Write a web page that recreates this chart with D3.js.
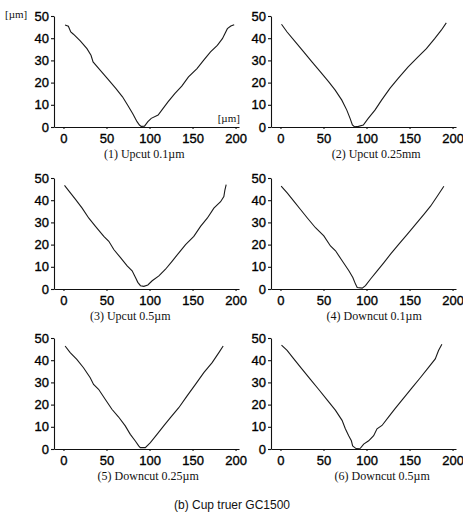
<!DOCTYPE html>
<html lang="en">

<head>
    <meta charset="UTF-8">
    <title>Cup truer GC1500</title>
    <script src="https://d3js.org/d3.v7.min.js"></script>
    <style>
        body,
        html {
            margin: 0px;
            background: #fff;
        }

        .tick text {
            font-family: 'Liberation Sans', Arial, sans-serif;
            font-size: 13px;
            fill: #000;
            stroke: #000;
            stroke-width: 0.35px;
        }

        .title {
            font-family: 'Liberation Serif', 'Times New Roman', serif;
            font-size: 12px;
            fill: #111;
        }
    </style>
</head>

<body>
    <div id="chart"></div>

    <script>
        // profile data: [x µm, depth µm]
        const upcut01 = [[1.8, 45.9], [5.7, 45.4], [8.5, 42.8], [11.6, 41.8], [19.5, 38.8], [27.3, 35.3], [32, 32.3], [34.4, 29.3],
        [41.1, 26.3], [50.9, 21.9], [60.8, 17.4], [68.6, 13.6], [74.5, 9.9], [80.4, 6.1], [85.5, 2.4], [88.3, 0.9], [90.3, 0.3],
        [94.2, 0.4], [98.1, 2.4], [102, 3.9], [110, 5.4], [115.8, 8.4], [121.7, 11.4], [129.6, 15.1], [137.5, 18.4], [145.3, 22.6],
        [155.2, 26.3], [163, 30.1], [170.9, 33.8], [178.8, 36.8], [184.7, 39.8], [190.5, 44.3], [194.5, 45.5], [198.4, 46.1]]

        const upcut025 = [[1.2, 46.3], [7.7, 42.8], [17.3, 38.3], [27, 33.8], [36.6, 29.3], [46.2, 24.9], [55.9, 20.4], [63.6, 16.6],
        [71.3, 12.1], [77.1, 7.6], [80.9, 3.9], [83.6, 0.9], [85.9, 0.1], [90.6, 0.3], [96.3, 0.9], [102, 3.9], [109.8, 7.6],
        [117.5, 12.1], [127.2, 17.4], [136.8, 21.9], [148.4, 27.1], [159.9, 31.6], [169.6, 35.3], [179.2, 39.8], [186.9, 43.6], [192.7, 46.9]]

        const upcut05 = [[1.2, 46.7], [6.2, 44.2], [14, 40.4], [21.7, 36.4], [29.5, 31.9], [37.2, 28.2], [46.9, 23.7], [52.7, 21.5],
        [58.5, 17.8], [66.3, 14.1], [74, 10.4], [79.8, 8.2], [83.7, 5.2], [86.4, 3], [89.5, 1.5], [93.4, 1.2], [98.1, 1.8],
        [103.1, 3.7], [110.9, 5.9], [118.6, 8.9], [126.4, 12.6], [134.1, 16.3], [141.9, 20], [151.5, 23.7], [159.3, 28.2],
        [167.1, 31.9], [174.8, 36.4], [182.6, 39.3], [186.4, 41.6], [187.6, 44.5], [189.1, 47]]

        const downcut01 = [[0.8, 46.3], [7.8, 43.3], [15.5, 39.6], [23.3, 35.8], [31, 32.1], [40.7, 27.6], [50.4, 23.9], [58.1, 19.4],
        [64, 17.2], [71.7, 12.7], [79.5, 8.2], [84.1, 5.2], [87.2, 2.2], [89.2, 0.7], [95, 0.4], [98.8, 1.5], [104.7, 4.5],
        [112.4, 8.2], [120.2, 11.9], [127.9, 15.7], [137.6, 20.2], [147.3, 24.6], [157, 29.1], [166.7, 33.6], [174.4, 37.3],
        [182.2, 41.8], [189.9, 46.3]]

        const downcut025 = [[1.9, 46.4], [7.8, 43.4], [15.5, 40.4], [23.3, 36.6], [31.1, 32.1], [35, 29.1], [40.8, 26.9], [48.5, 22.4],
        [56.3, 17.9], [64.1, 14.4], [71.8, 10.4], [77.7, 6.6], [83.5, 3.6], [87.4, 1.4], [89.3, 0.6], [95.1, 0.6], [101, 2.9],
        [108.7, 6.6], [116.5, 10.4], [124.3, 14.1], [134, 18.6], [143.7, 23.9], [153.4, 29.1], [163.1, 34.4], [172.8, 38.9],
        [180.6, 43.4], [185.6, 46.4]]

        const downcut05 = [[1.2, 46.8], [7.7, 44.4], [15.5, 40.6], [25.1, 36], [34.8, 31.4], [44.5, 26.8], [54.2, 22.1], [63.8, 17.5],
        [71.6, 12.9], [75.4, 9.1], [79.3, 6], [82.4, 3.7], [83.9, 1.4], [87.8, 0.2], [92.8, 0.3], [96.7, 2.2], [102.5, 3.7],
        [108.3, 6], [112.2, 9.1], [118, 10.6], [125.7, 14.5], [133.4, 18.3], [143.1, 22.9], [152.8, 27.5], [162.5, 32.1],
        [172.1, 36.8], [179.9, 40.6], [183.7, 44.4], [187.6, 47.2]]

        const series = [upcut01, upcut025, upcut05, downcut01, downcut025, downcut05]
        const titles = ['(1) Upcut 0.1\u00b5m', '(2) Upcut 0.25mm', '(3) Upcut 0.5\u00b5m',
            '(4) Downcut 0.1\u00b5m', '(5) Downcut 0.25\u00b5m', '(6) Downcut 0.5\u00b5m']
        const xTicks = [0, 50, 100, 150, 200]
        const yTicks = [0, 10, 20, 30, 40, 50]
        const caption = '(b) Cup truer GC1500'

        const width = 463, height = 516
        // panel placement: axis origin (left, bottom) and title centre
        const colLeft = [54, 271]
        const rowBottom = [127, 289, 449]
        const panelW = 185, panelH = 111
        const titleShift = [-1, 14, -15, 12, 3, 20]

        const svg = d3.select('#chart')
            .append('svg')
            .attr('width', width)
            .attr('height', height)
            .style('background', '#fff')

        series.forEach((data, i) => {
            const col = i % 2, row = Math.floor(i / 2)
            const x0 = colLeft[col], y0 = rowBottom[row]

            const x = d3.scaleLinear().domain([-11, 204]).range([0, panelW])
            const y = d3.scaleLinear().domain([0, 50]).range([0, -panelH])

            const g = svg.append('g').attr('transform', `translate(${x0},${y0})`)

            g.append('g')
                .call(d3.axisBottom(x).tickValues(xTicks).tickSize(2).tickSizeOuter(0).tickPadding(5))
            g.append('g')
                .attr('transform', `translate(${x(-11)},0)`)
                .call(d3.axisLeft(y).tickValues(yTicks).tickSize(3).tickSizeOuter(0).tickPadding(2))
            g.selectAll('.domain, .tick line').attr('stroke', '#111').attr('stroke-width', 1.1)

            const line = d3.line().x(d => x(d[0])).y(d => y(d[1]))
            g.append('path')
                .datum(data)
                .attr('d', line)
                .attr('fill', 'none')
                .attr('stroke', '#1a1a1a')
                .attr('stroke-width', 1.1)

            g.append('text')
                .attr('class', 'title')
                .attr('x', x(95) + titleShift[i])
                .attr('y', 31)
                .attr('text-anchor', 'middle')
                .text(titles[i])

            // unit labels only on the first panel
            if (i === 0) {
                g.append('text')
                    .attr('class', 'title')
                    .attr('x', x(205))
                    .attr('y', -5)
                    .attr('text-anchor', 'end')
                    .style('font-size', '11px')
                    .text('[\u00b5m]')
                g.append('text')
                    .attr('class', 'title')
                    .attr('x', -49)
                    .attr('y', y(50) + 2)
                    .style('font-size', '11px')
                    .text('[\u00b5m]')
            }
        })

        svg.append('text')
            .attr('x', 232)
            .attr('y', 509)
            .attr('text-anchor', 'middle')
            .style('font-family', "'Liberation Sans', Arial, sans-serif")
            .style('font-size', '12px')
            .style('fill', '#111')
            .text(caption)
    </script>
</body>

</html>
